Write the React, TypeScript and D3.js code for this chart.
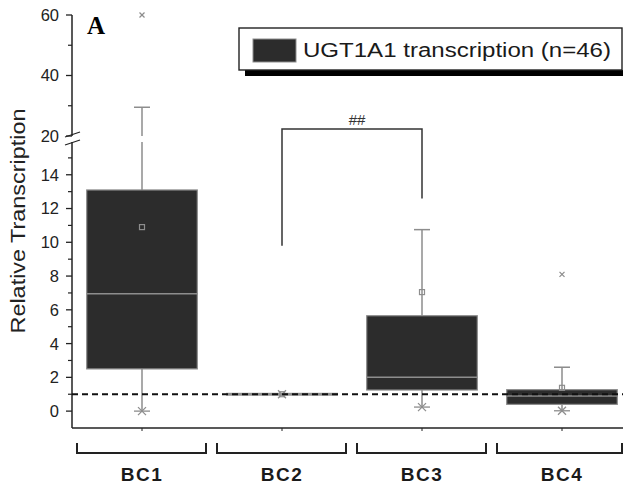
import React from 'react';
import * as d3 from 'd3';

// Box statistics per breast-cancer group (relative transcription)
const categories = ['BC1', 'BC2', 'BC3', 'BC4'];
const q1Values = [2.5, 0.95, 1.25, 0.4];
const medianValues = [6.95, 1.0, 2.0, 0.9];
const q3Values = [13.1, 1.05, 5.65, 1.27];
const meanValues = [10.9, 1.0, 7.05, 1.38];
const whiskerLow = [0, 1.0, 0.24, 0.02];
const whiskerHigh = [29.5, 1.0, 10.75, 2.6];
const outlierValues = [[60], [], [], [8.1]];

const lowerTicks = [0, 2, 4, 6, 8, 10, 12, 14];
const lowerMinor = [1, 3, 5, 7, 9, 11, 13, 15];
const upperTicks = [20, 40, 60];
const upperMinor = [30, 50];

const referenceLevel = 1;
// significance bracket between BC2 and BC3
const bracketFrom = 'BC2';
const bracketTo = 'BC3';
const bracketLeftEnd = 9.8;
const bracketRightEnd = 12.6;
const bracketTop = 22.3;
const bracketLabel = '##';

const legendLabel = 'UGT1A1 transcription (n=46)';
const yTitle = 'Relative Transcription';
const panelLetter = 'A';

const W = 623;
const H = 490;
const axisX = 72;
const axisY = 428;
const breakLow = 16;
const breakHigh = 20;

const BOX_FILL = '#2c2c2c';
const GREY = '#8d8d8d';

export default function App() {
  const x = d3.scaleBand<string>().domain(categories).range([72, 632]);
  const lower = d3.scaleLinear().domain([-1, breakLow]).range([axisY, 141]);
  const upper = d3.scaleLinear().domain([breakHigh, 60]).range([136, 15]);
  const y = (v: number) => (v <= breakLow ? lower(v) : upper(v));
  const cx = (c: string) => (x(c) as number) + x.bandwidth() / 2;
  const boxW = x.bandwidth() * 0.79;
  const capW = 16;

  const font = 'Arial, "Liberation Sans", sans-serif';

  const cross = (px: number, py: number, s: number, key: string) => (
    <g key={key} stroke={GREY} strokeWidth={1.2}>
      <line x1={px - s} y1={py - s} x2={px + s} y2={py + s} />
      <line x1={px - s} y1={py + s} x2={px + s} y2={py - s} />
    </g>
  );

  const breakY1 = lower(breakLow) + 1;
  const breakY2 = upper(breakHigh);

  return (
    <svg width={W} height={H} style={{ position: 'absolute', left: 0, top: 0, background: '#fff' }}>
      {/* panel letter */}
      <text x={87} y={34} fontFamily='"Liberation Serif", "Times New Roman", serif' fontWeight="bold" fontSize={25}>
        {panelLetter}
      </text>

      {/* y axis title */}
      <text
        transform={`translate(25,221) rotate(-90)`}
        textAnchor="middle"
        fontFamily={font}
        fontSize={21}
        textLength={225}
        lengthAdjust="spacingAndGlyphs"
        fill="#222"
      >
        {yTitle}
      </text>

      {/* y axis, split into two segments around the break */}
      <line x1={axisX} x2={axisX} y1={axisY} y2={breakY1} stroke="#222" strokeWidth={1.5} />
      <line x1={axisX} x2={axisX} y1={breakY2} y2={upper(60)} stroke="#222" strokeWidth={1.5} />
      {/* axis break marks */}
      <line x1={65} y1={breakY2 + 1} x2={80} y2={breakY2 - 4} stroke="#222" strokeWidth={1.3} />
      <line x1={65} y1={breakY1 + 3} x2={80} y2={breakY1 - 2} stroke="#222" strokeWidth={1.3} />

      {lowerTicks.concat(upperTicks).map((t) => (
        <g key={'t' + t}>
          <line x1={axisX - 6} x2={axisX} y1={y(t)} y2={y(t)} stroke="#222" strokeWidth={1.3} />
          <text
            x={axisX - 13}
            y={y(t)}
            dy="0.36em"
            textAnchor="end"
            fontFamily={font}
            fontSize={16.5}
            fill="#222"
          >
            {t}
          </text>
        </g>
      ))}
      {lowerMinor.concat(upperMinor).map((t) => (
        <line key={'m' + t} x1={axisX - 4} x2={axisX} y1={y(t)} y2={y(t)} stroke="#222" strokeWidth={1.2} />
      ))}

      {/* x axis */}
      <line x1={axisX} x2={W} y1={axisY} y2={axisY} stroke="#222" strokeWidth={1.6} />
      {categories.map((c) => (
        <line key={'xt' + c} x1={cx(c)} x2={cx(c)} y1={axisY} y2={axisY + 3} stroke="#222" strokeWidth={1} />
      ))}

      {/* group brackets and labels */}
      {categories.map((c) => {
        const x0 = cx(c) - 65;
        const x1 = Math.min(cx(c) + 64, 622);
        return (
          <g key={'gb' + c}>
            <path
              d={`M${x0},443 V453 H${x1} V443`}
              fill="none"
              stroke="#222"
              strokeWidth={2}
            />
            <text
              x={cx(c)}
              y={481}
              textAnchor="middle"
              fontFamily={font}
              fontWeight="bold"
              fontSize={19}
              letterSpacing={1.5}
              fill="#1a1a1a"
            >
              {c}
            </text>
          </g>
        );
      })}

      {/* boxes */}
      {categories.map((c, i) => {
        const mx = cx(c);
        const top = y(q3Values[i]);
        const bot = y(q1Values[i]);
        const hi = whiskerHigh[i];
        const crossesBreak = hi > breakLow;
        return (
          <g key={'box' + c}>
            {/* upper whisker */}
            {crossesBreak ? (
              <>
                <line x1={mx} x2={mx} y1={top} y2={breakY1} stroke={GREY} strokeWidth={1.5} />
                <line x1={mx} x2={mx} y1={breakY2} y2={y(hi)} stroke={GREY} strokeWidth={1.5} />
              </>
            ) : (
              <line x1={mx} x2={mx} y1={top} y2={y(hi)} stroke={GREY} strokeWidth={1.5} />
            )}
            <line x1={mx - capW / 2} x2={mx + capW / 2} y1={y(hi)} y2={y(hi)} stroke={GREY} strokeWidth={1.5} />
            {/* lower whisker */}
            <line x1={mx} x2={mx} y1={bot} y2={y(whiskerLow[i])} stroke={GREY} strokeWidth={1.5} />
            <line
              x1={mx - capW / 2}
              x2={mx + capW / 2}
              y1={y(whiskerLow[i])}
              y2={y(whiskerLow[i])}
              stroke={GREY}
              strokeWidth={1.3}
            />
            {cross(mx, y(whiskerLow[i]), 4, 'lo' + c)}
            {/* box */}
            <rect
              x={mx - boxW / 2}
              y={top}
              width={boxW}
              height={Math.max(bot - top, 0.01)}
              fill={BOX_FILL}
              stroke={GREY}
              strokeWidth={1.2}
            />
            <line
              x1={mx - boxW / 2}
              x2={mx + boxW / 2}
              y1={y(medianValues[i])}
              y2={y(medianValues[i])}
              stroke={GREY}
              strokeWidth={1.5}
            />
            {/* mean */}
            <rect
              x={mx - 2.5}
              y={y(meanValues[i]) - 2.5}
              width={5}
              height={5}
              fill="none"
              stroke={GREY}
              strokeWidth={1.2}
            />
            {outlierValues[i].map((o, k) => cross(mx, y(o), 2.5, 'out' + c + k))}
          </g>
        );
      })}

      {/* reference level */}
      <line
        x1={axisX}
        x2={W}
        y1={y(referenceLevel)}
        y2={y(referenceLevel)}
        stroke="#111"
        strokeWidth={1.8}
        strokeDasharray="6 4"
      />

      {/* significance bracket */}
      <path
        d={`M${cx(bracketFrom)},${y(bracketLeftEnd)} V${y(bracketTop)} H${cx(bracketTo)} V${y(bracketRightEnd)}`}
        fill="none"
        stroke="#333"
        strokeWidth={1.5}
      />
      <text
        x={(cx(bracketFrom) + cx(bracketTo)) / 2 + 5}
        y={125}
        textAnchor="middle"
        fontFamily={font}
        fontSize={15}
        fill="#333"
      >
        {bracketLabel}
      </text>

      {/* legend */}
      <rect x={245} y={70} width={390} height={6} fill="#000" />
      <rect x={239} y={28} width={383} height={42} fill="#fff" stroke="#222" strokeWidth={1.4} />
      <rect x={253} y={39} width={43} height={23} fill={BOX_FILL} stroke={GREY} strokeWidth={1} />
      <text
        x={303}
        y={57}
        fontFamily={font}
        fontSize={20}
        textLength={308}
        lengthAdjust="spacingAndGlyphs"
        fill="#1a1a1a"
      >
        {legendLabel}
      </text>
    </svg>
  );
}
